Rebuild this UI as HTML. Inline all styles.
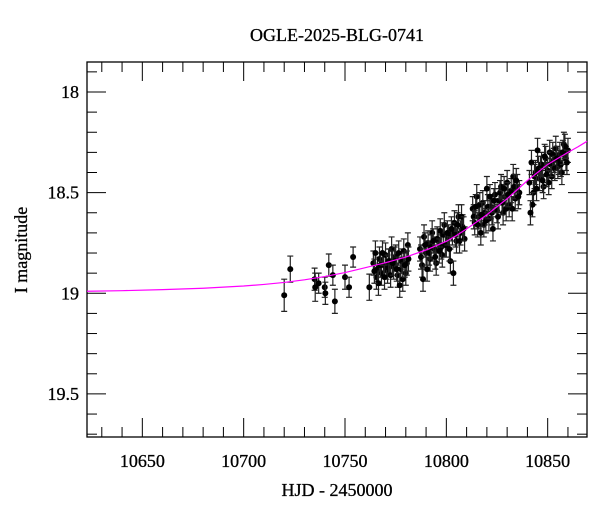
<!DOCTYPE html>
<html><head><meta charset="utf-8"><style>
body{margin:0;background:#fff;}
svg text{font-family:"Liberation Serif",serif;fill:#000;}
</style></head><body>
<svg id="chart" width="600" height="512" xmlns="http://www.w3.org/2000/svg">
<rect width="600" height="512" fill="#fff"/>
<text x="337" y="41" font-size="18" text-anchor="middle" stroke="#000" stroke-width="0.3">OGLE-2025-BLG-0741</text>
<text x="337" y="496" font-size="18" text-anchor="middle" stroke="#000" stroke-width="0.3">HJD - 2450000</text>
<text x="0" y="0" font-size="18" text-anchor="middle" stroke="#000" stroke-width="0.3" transform="translate(27,250) rotate(-90)">I magnitude</text>
<g id="plot"></g>
</svg>
<script>
const xTicks=[10650,10700,10750,10800,10850];
const yTicks=[18,18.5,19,19.5];
const modelT=[10620,10640,10660,10680,10700,10710,10720,10730,10740,10750,10760,10770,10780,10790,10800,10805,10810,10815,10820,10825,10830,10835,10840,10845,10850,10855,10860,10865,10870];
const modelMag=[18.99,18.987,18.982,18.975,18.964,18.956,18.946,18.933,18.917,18.897,18.873,18.848,18.82,18.785,18.742,18.713,18.68,18.645,18.61,18.57,18.53,18.485,18.44,18.40,18.36,18.33,18.30,18.272,18.245];
const sparseT=[10720,10723,10735,10735.3,10737,10740,10740.3,10742,10744,10745,10750,10752,10754,10762];
const sparseMag=[19.01,18.88,18.93,18.97,18.95,18.97,19.0,18.86,18.91,19.04,18.92,18.97,18.82,18.97];
const sparseErr=[0.08,0.065,0.055,0.07,0.05,0.05,0.055,0.055,0.05,0.06,0.06,0.05,0.05,0.065];
const denseT=[10764,10765,10765.5,10766,10767,10768,10769,10770,10771,10772,10773,10774,10775,10776,10777,10777.5,10778,10779,10780,10780.5,10781,10766.5,10770.5,10774.5,
10764.5,10767.5,10768.5,10769.5,10771.5,10772.5,10773.5,10775.5,10776.5,10778.5,10779.5,10781.3,
10787,10788,10788.5,10789,10790,10791,10792,10793,10794,10795,10796,10797,10798,10799,10800,10801,10802,10803,10804,10805,10806,10807,10808,10809,10790.5,10797.5,10803.5,
10787.5,10789.5,10791.5,10792.5,10793.5,10794.5,10795.5,10796.5,10798.5,10799.5,10800.5,10801.5,10802.5,10804.5,10805.5,10806.5,10807.5,10808.5,
10813,10814,10815,10816,10817,10818,10819,10820,10821,10822,10823,10824,10825,10826,10827,10828,10829,10830,10831,10832,10833,10834,10835,10836,10818.5,10825.5,10832.5,
10813.5,10814.5,10815.5,10816.5,10817.5,10819.5,10820.5,10821.5,10822.5,10823.5,10826.5,10827.5,10828.5,10829.5,10830.5,10833.5,10834.5,10835.5,
10841,10842,10843,10844,10845,10846,10847,10848,10849,10850,10851,10852,10853,10854,10855,10856,10857,10858,10859,10860,10842.5,10845.5,10850.5,10855.5,10858.5,10841.5,
10843.5,10844.5,10846.5,10847.5,10848.5,10849.5,10851.5,10852.5,10853.5,10854.5,10856.5,10857.5,10859.5];
const denseMag=[18.85,18.80,18.92,18.88,18.83,18.90,18.86,18.81,18.89,18.84,18.78,18.87,18.82,18.91,18.96,18.88,18.84,18.79,18.90,18.85,18.76,18.95,18.87,18.83,
18.89,18.86,18.80,18.92,18.84,18.91,18.85,18.88,18.80,18.93,18.86,18.83,
18.78,18.86,18.93,18.72,18.80,18.75,18.83,18.70,18.78,18.85,18.74,18.69,18.81,18.66,18.76,18.72,18.84,18.70,18.65,18.74,18.62,18.70,18.67,18.73,18.88,18.77,18.90,
18.82,18.76,18.80,18.77,18.74,18.82,18.73,18.79,18.71,18.76,18.70,18.78,18.68,18.71,18.66,18.74,18.62,18.68,
18.58,18.65,18.52,18.62,18.70,18.55,18.60,18.48,18.63,18.57,18.68,18.51,18.59,18.54,18.47,18.60,18.52,18.45,18.56,18.49,18.42,18.53,18.47,18.50,18.66,18.62,18.58,
18.62,18.57,18.66,18.56,18.61,18.64,18.57,18.52,18.60,18.54,18.50,18.55,18.48,18.58,18.51,18.47,18.44,18.52,
18.45,18.35,18.50,18.40,18.29,18.43,18.36,18.47,18.33,18.39,18.30,18.42,18.34,18.28,18.37,18.31,18.40,18.26,18.33,18.29,18.56,18.38,18.45,18.35,18.27,18.60,
18.42,18.48,18.38,18.44,18.32,18.41,18.36,18.31,18.38,18.33,18.36,18.30,18.35];
const denseErr=0.06;

const L=87,R=587,T=62,B=437;
const X0=10622.7,X1=10869.4,Y0=17.851,Y1=19.714;
const sx=v=>L+(v-X0)/(X1-X0)*(R-L);
const sy=v=>T+(v-Y0)/(Y1-Y0)*(B-T);
const NS="http://www.w3.org/2000/svg";
const g=document.getElementById('plot');
function mk(tag,attrs){const e=document.createElementNS(NS,tag);for(const k in attrs)e.setAttribute(k,attrs[k]);g.appendChild(e);return e;}

const fr=mk('rect',{x:L,y:T,width:R-L,height:B-T,fill:'none',stroke:'#000','stroke-width':1.3});


for(let v=10630;v<=10869;v+=10){
  const x=sx(v);const major=v%50===0;const len=major?19:10;
  const t1=mk('line',{x1:x,y1:B,x2:x,y2:B-len,stroke:'#000','stroke-width':1});
  
  
  const t2=mk('line',{x1:x,y1:T,x2:x,y2:T+len,stroke:'#000','stroke-width':1});
  
  
}
xTicks.forEach(v=>{
  const t=mk('text',{x:sx(v),y:467,'font-size':18,'text-anchor':'middle',stroke:'#000','stroke-width':0.3});
  t.textContent=v;
  
  
});
for(let i=0;i<=18;i++){
  const v=17.9+i*0.1;if(v>Y1)break;
  const y=sy(v);const major=Math.abs((v*2)-Math.round(v*2))<1e-6;const len=major?19:10;
  const t1=mk('line',{x1:L,y1:y,x2:L+len,y2:y,stroke:'#000','stroke-width':1});
  
  
  const t2=mk('line',{x1:R,y1:y,x2:R-len,y2:y,stroke:'#000','stroke-width':1});
  
  
}
yTicks.forEach(v=>{
  const t=mk('text',{x:79,y:sy(v)+6,'font-size':18,'text-anchor':'end',stroke:'#000','stroke-width':0.3});
  t.textContent=v;
  
  
});
function pt(t,m,e){
  const x=sx(t),y1=sy(m-e),y2=sy(m+e);
  const eb=mk('path',{d:`M${x},${y1}V${y2}M${x-3},${y1}H${x+3}M${x-3},${y2}H${x+3}`,stroke:'#222','stroke-width':1.2,fill:'none'});
  
  
  const c=mk('circle',{cx:x,cy:sy(m),r:3,fill:'#000'});
  
  
}
sparseT.forEach((t,i)=>pt(t,sparseMag[i],sparseErr[i]));
denseT.forEach((t,i)=>pt(t,denseMag[i],denseErr));
const d=modelT.map((t,i)=>(i?'L':'M')+Math.max(L,Math.min(R,sx(t)))+','+sy(modelMag[i])).join('');
const mc=mk('path',{d:d,stroke:'#ff00ff','stroke-width':1.2,fill:'none'});


</script>
</body></html>
